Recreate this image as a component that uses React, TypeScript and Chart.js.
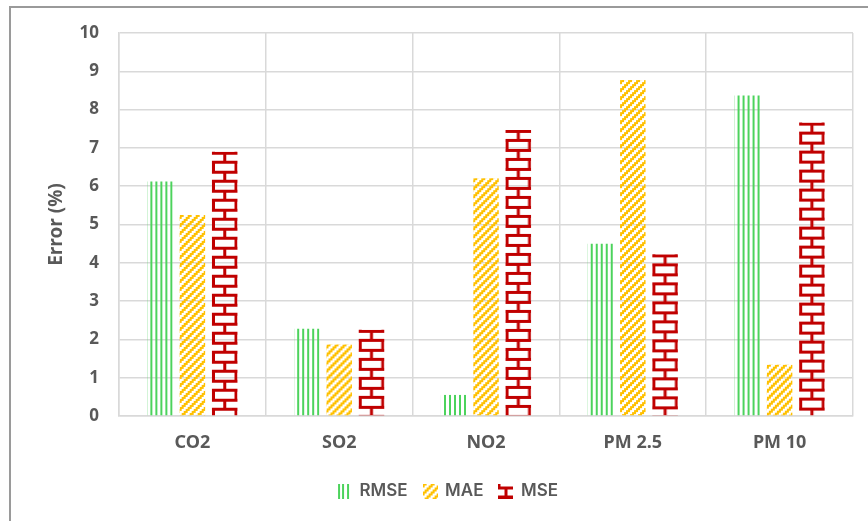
import React, { useEffect, useRef } from "react";
import { Chart, registerables } from "chart.js";

Chart.register(...registerables);

// Pollutants on the category axis
const categories = ["CO2", "SO2", "NO2", "PM 2.5", "PM 10"];

// Error values (%) per pollutant
const rmseValues = [6.12, 2.28, 0.55, 4.5, 8.37];
const maeValues = [5.25, 1.87, 6.21, 8.77, 1.34];
const mseValues = [6.9, 2.25, 7.47, 4.22, 7.66];

const seriesNames = ["RMSE", "MAE", "MSE"];

// Value axis range
const yMin = 0;
const yMax = 10;
const yStep = 1;

const GREEN = "#4cd35c";
const YELLOW = "#ffc000";
const RED = "#c00000";
const TEXT = "#595959";
const GRID = "#d9d9d9";
const FONT = "'Noto Sans', 'Open Sans', sans-serif";
const LEGEND_FONT = "Inter, 'Noto Sans', sans-serif";

function makeCanvas(w: number, h: number) {
  const c = document.createElement("canvas");
  c.width = w;
  c.height = h;
  return c;
}

// Narrow vertical stripes
function stripeTile() {
  const c = makeCanvas(5, 4);
  const g = c.getContext("2d")!;
  g.fillStyle = GREEN;
  g.fillRect(3, 0, 2, 4);
  return c;
}

// Wide upward diagonal, drawn in 2px steps
function diagTile() {
  const c = makeCanvas(8, 8);
  const g = c.getContext("2d")!;
  g.fillStyle = YELLOW;
  for (let by = 0; by < 4; by++) {
    for (let bx = 0; bx < 4; bx++) {
      if ((bx + by) % 4 < 2) g.fillRect(bx * 2, by * 2, 2, 2);
    }
  }
  return c;
}

// Brick courses spanning one bar width
function brickTile(width: number) {
  const w = Math.max(6, Math.ceil(width));
  const c = makeCanvas(w, 19);
  const g = c.getContext("2d")!;
  const lw = 3;
  g.fillStyle = RED;
  g.fillRect(0, 0, w, lw);
  g.fillRect(width / 2 - lw / 2, lw, lw, 9 - lw);
  g.fillRect(0, 9, w, lw);
  g.fillRect(0, 9 + lw, lw, 19 - 9 - lw);
  g.fillRect(width - lw, 9 + lw, lw, 19 - 9 - lw);
  return c;
}

// Small legend markers
function legendIcon(kind: number) {
  const c = makeCanvas(15, 15);
  const g = c.getContext("2d")!;
  if (kind === 0) {
    g.fillStyle = GREEN;
    [1, 5, 10].forEach((x) => g.fillRect(x, 0, 2, 15));
  } else if (kind === 1) {
    g.fillStyle = YELLOW;
    for (let by = 0; by < 8; by++) {
      for (let bx = 0; bx < 8; bx++) {
        if ((bx + by) % 4 < 2) g.fillRect(bx * 2, by * 2, 2, 2);
      }
    }
  } else {
    g.fillStyle = RED;
    g.fillRect(0, 3, 15, 3);
    g.fillRect(6, 6, 3, 6);
    g.fillRect(0, 12, 15, 3);
    g.fillRect(0, 0, 2, 6);
  }
  return c;
}

const LEGEND_CX = 448;
const LEGEND_CY = 491;

export default function App() {
  const ref = useRef<HTMLCanvasElement>(null);

  useEffect(() => {
    const canvas = ref.current;
    if (!canvas) return;
    const stripe = stripeTile();
    const diag = diagTile();
    const icons = [legendIcon(0), legendIcon(1), legendIcon(2)];

    // Anchor each bar's fill pattern to that bar's own top-left corner
    const patternPlugin = {
      id: "barPatterns",
      beforeDatasetsDraw(chart: any) {
        const ctx = chart.ctx as CanvasRenderingContext2D;
        chart.data.datasets.forEach((_ds: any, di: number) => {
          const meta = chart.getDatasetMeta(di);
          meta.data.forEach((el: any) => {
            const { x, y, width } = el.getProps(["x", "y", "width"], true);
            const left = x - width / 2;
            const tile = di === 0 ? stripe : di === 1 ? diag : brickTile(width);
            const p = ctx.createPattern(tile, "repeat")!;
            p.setTransform(new DOMMatrix([1, 0, 0, 1, left, y]));
            el.options.backgroundColor = p;
          });
        });
      },
    };

    // Place the legend row below the plot
    const legendPlacer = {
      id: "legendPlacer",
      afterLayout(chart: any) {
        const lg = chart.legend;
        if (!lg) return;
        const pad = lg.options.labels.padding;
        const fs = 17;
        const dx = LEGEND_CX - (lg.left + lg.right) / 2;
        const dy = LEGEND_CY - (lg.top + pad + fs / 2);
        lg.left += dx;
        lg.right += dx;
        lg.top += dy;
        lg.bottom += dy;
      },
    };

    const chart = new Chart(canvas, {
      type: "bar",
      data: {
        labels: categories,
        datasets: [
          { label: seriesNames[0], data: rmseValues, backgroundColor: () => GREEN, borderWidth: 0 },
          { label: seriesNames[1], data: maeValues, backgroundColor: () => YELLOW, borderWidth: 0 },
          { label: seriesNames[2], data: mseValues, backgroundColor: () => RED, borderWidth: 0 },
        ],
      },
      options: {
        responsive: false,
        animation: false,
        devicePixelRatio: 1,
        datasets: {
          bar: { categoryPercentage: 0.66, barPercentage: 0.79 },
        },
        layout: { padding: { left: 10, right: 15, top: 33, bottom: 0 } },
        plugins: {
          tooltip: { enabled: false },
          legend: {
            position: "bottom",
            labels: {
              usePointStyle: true,
              pointStyleWidth: 13,
              boxHeight: 15,
              padding: 16,
              color: TEXT,
              font: { family: LEGEND_FONT, size: 17, weight: "600" },
              generateLabels: () =>
                seriesNames.map((name, i) => ({
                  text: name,
                  pointStyle: icons[i],
                  fillStyle: "transparent",
                  strokeStyle: "transparent",
                  lineWidth: 0,
                  hidden: false,
                  datasetIndex: i,
                  fontColor: TEXT,
                })),
            },
          },
        },
        scales: {
          x: {
            grid: { color: GRID, lineWidth: 1.5, drawTicks: false, offset: true },
            border: { color: GRID, width: 1.5 },
            ticks: {
              color: TEXT,
              padding: 16,
              font: { family: FONT, size: 18, weight: "bold" },
            },
            afterFit: (s: any) => {
              s.height = 62;
            },
          },
          y: {
            min: yMin,
            max: yMax,
            grid: { color: GRID, lineWidth: 1.5, drawTicks: false },
            border: { color: GRID, width: 1.5 },
            ticks: {
              stepSize: yStep,
              color: TEXT,
              padding: 20,
              font: { family: FONT, size: 17, weight: "bold" },
            },
            title: {
              display: true,
              text: "Error (%)",
              color: TEXT,
              font: { family: FONT, size: 19, weight: "bold" },
              padding: { top: 35, bottom: 0 },
            },
            afterFit: (s: any) => {
              s.width = 109;
            },
          },
        },
      },
      plugins: [patternPlugin, legendPlacer],
    } as any);

    return () => chart.destroy();
  }, []);

  return (
    <div
      style={{
        position: "fixed",
        left: 0,
        top: 0,
        width: 868,
        height: 521,
        background: "#ffffff",
        overflow: "hidden",
      }}
    >
      <div
        style={{
          position: "absolute",
          left: 9,
          top: 6,
          width: 900,
          height: 560,
          borderTop: "2px solid #9a9a9a",
          borderLeft: "2px solid #9a9a9a",
        }}
      />
      <canvas
        ref={ref}
        width={868}
        height={521}
        style={{ position: "absolute", left: 0, top: 0, width: 868, height: 521 }}
      />
    </div>
  );
}
